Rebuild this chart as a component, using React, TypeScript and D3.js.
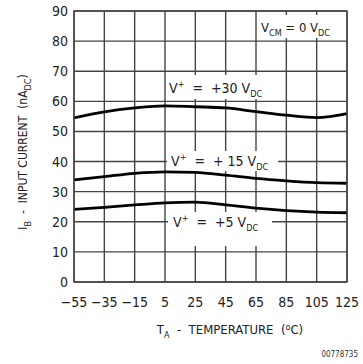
import React from 'react'
import * as d3 from 'd3'

// temperature in degC
const temps = [-55, -35, -15, 5, 25, 45, 65, 85, 105, 125]
// input bias current in nA for each supply
const i30 = [54.5, 56.5, 57.8, 58.5, 58.2, 57.8, 56.6, 55.4, 54.6, 55.9]
const i15 = [33.9, 35.0, 36.1, 36.6, 36.4, 35.5, 34.4, 33.6, 33.0, 32.8]
const i5 = [24.1, 24.8, 25.6, 26.3, 26.5, 25.6, 24.5, 23.7, 23.2, 23.0]
const yTicks = [0, 10, 20, 30, 40, 50, 60, 70, 80, 90]
const xTickLabels = ['−55', '−35', '−15', '5', '25', '45', '65', '85', '105', '125']

const W = 363
const H = 364
const font = '"DejaVu Sans Condensed", "DejaVu Sans", sans-serif'
const pre = { whiteSpace: 'pre' as const }

function App() {
  const x = d3.scaleLinear().domain([-55, 125]).range([74, 347])
  const y = d3.scaleLinear().domain([0, 90]).range([282, 11])

  const line = d3.line<number>()
    .x((d, i) => x(temps[i]))
    .y((d) => y(d))
    .curve(d3.curveMonotoneX)

  const grid = '#444'
  // white label boxes that break the grid
  const boxes = [
    { x: 258, y: 15, w: 86, h: 23 },
    { x: 167, y: 75, w: 111, h: 24 },
    { x: 167, y: 151, w: 111, h: 20 },
    { x: 168, y: 212, w: 104, h: 34 },
  ]

  return (
    <svg width={W} height={H} style={{ position: 'absolute', left: 0, top: 0, background: '#fff' }}
      fontFamily={font}>
      {yTicks.map((t) => (
        <line key={'h' + t} x1={x(-55)} x2={x(125)} y1={y(t)} y2={y(t)} stroke={grid} strokeWidth={1.4} />
      ))}
      {temps.map((t) => (
        <line key={'v' + t} x1={x(t)} x2={x(t)} y1={y(0)} y2={y(90)} stroke={grid} strokeWidth={1.4} />
      ))}
      {boxes.map((b, i) => (
        <rect key={i} x={b.x} y={b.y} width={b.w} height={b.h} fill="#fff" />
      ))}
      {[i30, i15, i5].map((s, i) => (
        <path key={i} d={line(s) || ''} fill="none" stroke="#000" strokeWidth={2.8} />
      ))}
      <rect x={x(-55)} y={y(90)} width={x(125) - x(-55)} height={y(0) - y(90)} fill="none" stroke={grid} strokeWidth={1.4} />

      {yTicks.map((t) => (
        <text key={'yl' + t} x={68} y={y(t) + 5} textAnchor="end" fontSize={14} fill="#222">{t}</text>
      ))}
      {temps.map((t, i) => (
        <text key={'xl' + t} x={x(t)} y={307} textAnchor="middle" fontSize={14} fill="#222">{xTickLabels[i]}</text>
      ))}

      <text x={261} y={32} fontSize={13} fill="#222" style={pre}>
        V<tspan fontSize={9} dy={4}>CM</tspan><tspan dy={-4}>{' = 0 V'}</tspan><tspan fontSize={9} dy={4}>DC</tspan>
      </text>
      <text x={169} y={93} fontSize={14} fill="#222" style={pre}>
        V<tspan fontSize={9} dy={-6}>+</tspan><tspan dy={6}>{'  =  +30 V'}</tspan><tspan fontSize={9} dy={4}>DC</tspan>
      </text>
      <text x={171} y={166} fontSize={14} fill="#222" style={pre}>
        V<tspan fontSize={9} dy={-6}>+</tspan><tspan dy={6}>{'  =  + 15 V'}</tspan><tspan fontSize={9} dy={4}>DC</tspan>
      </text>
      <text x={173} y={227} fontSize={14} fill="#222" style={pre}>
        V<tspan fontSize={9} dy={-6}>+</tspan><tspan dy={6}>{'  =  +5 V'}</tspan><tspan fontSize={9} dy={4}>DC</tspan>
      </text>

      <text x={230} y={334} textAnchor="middle" fontSize={13} fill="#222" style={pre}>
        T<tspan fontSize={9} dy={4}>A</tspan><tspan dy={-4}>{'  -  TEMPERATURE  ('}</tspan><tspan fontSize={9} dy={-4}>o</tspan><tspan dy={4}>C)</tspan>
      </text>
      <text transform="translate(27,152) rotate(-90)" textAnchor="middle" fontSize={12} fill="#222" style={pre}>
        I<tspan fontSize={9} dy={4}>B</tspan><tspan dy={-4}>{'  -  INPUT CURRENT  (nA'}</tspan><tspan fontSize={9} dy={4}>DC</tspan><tspan dy={-4}>)</tspan>
      </text>
      <text x={358} y={357} textAnchor="end" fontSize={8} fill="#333">00778735</text>
    </svg>
  )
}

export default App
